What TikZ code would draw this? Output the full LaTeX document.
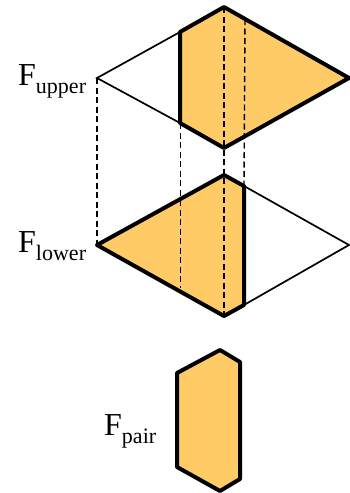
\documentclass[tikz,border=0pt]{standalone}
\usepackage{fontspec}
\setmainfont{Liberation Serif}
\usetikzlibrary{positioning}

\newcommand{\facelabel}[1]{F\raisebox{-8pt}{\fontsize{22}{22}\selectfont #1}}

\begin{document}
\begin{tikzpicture}[
  x=1pt, y=-1pt,
  face/.style={fill=facefill},
  thinedge/.style={line width=1.7pt, line join=miter},
  thickedge/.style={line width=4pt, line join=round},
  guide/.style={line width=1.4pt, dash pattern=on 6pt off 3.5pt},
  faintguide/.style={line width=0.8pt, dash pattern=on 6pt off 3.5pt},
  lab/.style={font=\fontsize{32}{32}\selectfont, inner sep=0pt, anchor=base west}
]
\definecolor{facefill}{RGB}{254,203,102}
\useasboundingbox (0,0) rectangle (349,493);

% upper face
\coordinate (ul) at (97,78);
\coordinate (ut) at (224,7);
\coordinate (ur) at (349,78);
\coordinate (ub) at (224,148);
\coordinate (uca) at (180,32);
\coordinate (ucb) at (180,123);
\coordinate (uda) at (245,19);
\coordinate (udb) at (245,136);

% lower face
\coordinate (ll) at (97,245);
\coordinate (lt) at (224,175);
\coordinate (lr) at (349,245);
\coordinate (lb) at (224,316);
\coordinate (lca) at (244,186);
\coordinate (lcb) at (244,305);
\coordinate (lda) at (180,200);
\coordinate (ldb) at (180,288);

% pair face
\coordinate (pa) at (220,350);
\coordinate (pb) at (240,362);
\coordinate (pc) at (240,479);
\coordinate (pd) at (220,491);
\coordinate (pe) at (177,467);
\coordinate (pf) at (177,373);

\fill[face] (uca) -- (ut) -- (ur) -- (ub) -- (ucb) -- cycle;
\fill[face] (ll) -- (lt) -- (lca) -- (lcb) -- (lb) -- cycle;
\fill[face] (pa) -- (pb) -- (pc) -- (pd) -- (pe) -- (pf) -- cycle;

\draw[thinedge] (uca) -- (ul) -- (ucb);
\draw[thinedge] (lca) -- (lr) -- (lcb);

\draw[guide] (ul) -- (ll);
\draw[guide] (ut) -- (lb);
\draw[guide] (uda) -- (lca);
\draw[faintguide] (ucb) -- (lda);
\draw[faintguide] (lda) -- (ldb);

\draw[thickedge] (ucb) -- (uca) -- (ut) -- (ur) -- (ub) -- cycle;
\draw[thickedge] (ll) -- (lt) -- (lca) -- (lcb) -- (lb) -- cycle;
\draw[thickedge] (pa) -- (pb) -- (pc) -- (pd) -- (pe) -- (pf) -- cycle;

\node[lab] (fupper) at (18,85) {\facelabel{upper}};
\node[lab] (flower) at (18,252) {\facelabel{lower}};
\node[lab] (fpair) at (104,435) {\facelabel{pair}};
\end{tikzpicture}
\end{document}
